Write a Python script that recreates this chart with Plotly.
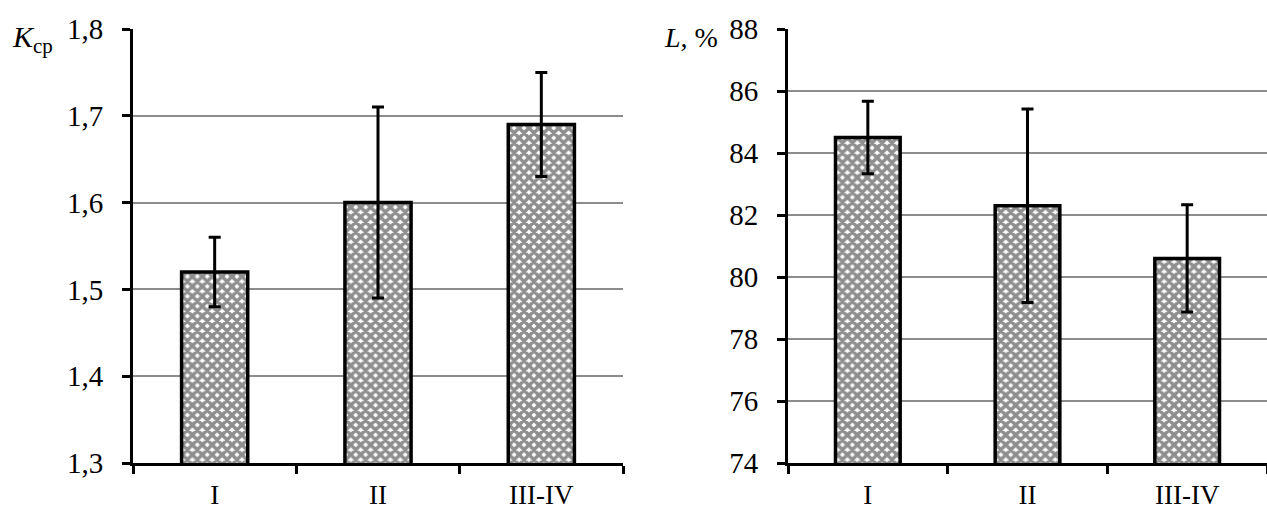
import plotly.graph_objects as go

categories = ["I", "II", "III-IV"]
k_values = [1.52, 1.60, 1.69]
k_err_plus = [0.04, 0.11, 0.06]
k_err_minus = [0.04, 0.11, 0.06]
l_values = [84.5, 82.3, 80.6]
l_err_plus = [1.17, 3.12, 1.73]
l_err_minus = [1.17, 3.12, 1.73]

FONT = "Liberation Serif"

pattern = dict(shape="x", fgcolor="#1e1e1e", bgcolor="white", size=7, solidity=0.75)

def bar(x, y, ep, em, xa, ya):
    return go.Bar(
        x=x, y=y, xaxis=xa, yaxis=ya, width=0.405,
        marker=dict(color="white", pattern=pattern, line=dict(color="black", width=3.5)),
        error_y=dict(type="data", symmetric=False, array=ep, arrayminus=em,
                     color="black", thickness=3, width=6),
        showlegend=False, hoverinfo="skip",
    )

fig = go.Figure()
fig.add_trace(bar(categories, k_values, k_err_plus, k_err_minus, "x", "y"))
fig.add_trace(bar(categories, l_values, l_err_plus, l_err_minus, "x2", "y2"))

ydom = [(512 - 463) / 512, (512 - 29) / 512]
xcommon = dict(showline=True, linecolor="black", linewidth=3, ticks="outside",
               tickson="boundaries", ticklen=8, tickwidth=3, tickcolor="black",
               showgrid=False, tickfont=dict(family=FONT, size=27, color="black"),
               ticklabelstandoff=6,
               automargin=False, fixedrange=True)
ycommon = dict(showline=True, linecolor="black", linewidth=3, ticks="outside",
               ticklen=8, tickwidth=3, tickcolor="black", showgrid=True,
               gridcolor="#8c8c8c", gridwidth=1.5, zeroline=False,
               tickfont=dict(family=FONT, size=29, color="black"),
               ticklabelstandoff=13,
               automargin=False, fixedrange=True, domain=ydom)

fig.update_layout(
    width=1267, height=512,
    margin=dict(l=0, r=0, t=0, b=0),
    paper_bgcolor="white", plot_bgcolor="white",
    separators=", ",
    xaxis=dict(domain=[133 / 1267, 623 / 1267], anchor="y", **xcommon),
    yaxis=dict(anchor="x", range=[1.3, 1.8], dtick=0.1, tickformat=".1f", **ycommon),
    xaxis2=dict(domain=[788 / 1267, 1.0], anchor="y2", **xcommon),
    yaxis2=dict(anchor="x2", range=[74, 88], dtick=2, **ycommon),
    annotations=[
        dict(text="<i>K</i><sub>ср</sub>", xref="paper", yref="paper",
             x=10 / 1267, y=1 - 39 / 512, xanchor="left", yanchor="middle",
             showarrow=False, font=dict(family=FONT, size=30, color="black")),
        dict(text="<i>L</i>, %", xref="paper", yref="paper",
             x=662 / 1267, y=1 - 37 / 512, xanchor="left", yanchor="middle",
             showarrow=False, font=dict(family=FONT, size=28, color="black")),
    ],
)

fig.write_html("out.html")
